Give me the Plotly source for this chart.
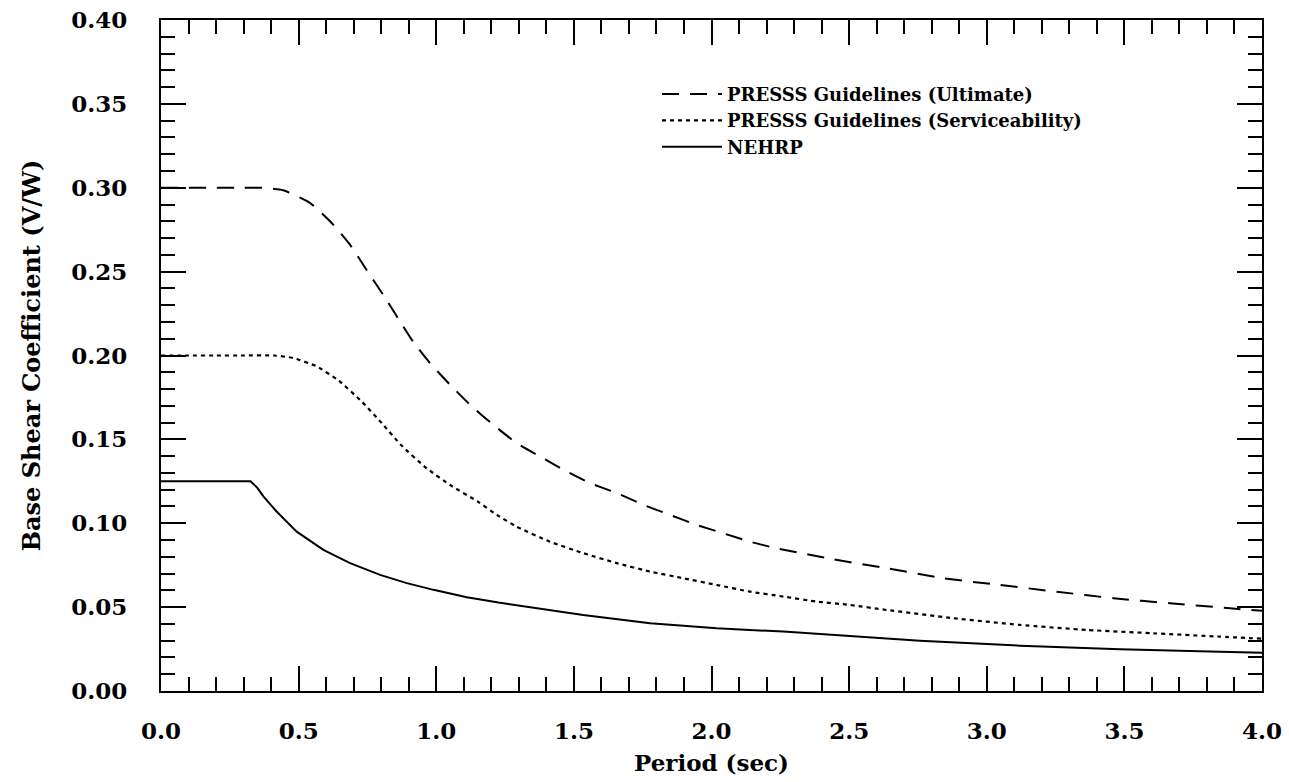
import plotly.graph_objects as go

# Period (sec) and base shear coefficient values
ult_T = [0.0, 0.10, 0.20, 0.30, 0.36, 0.444, 0.541, 0.62, 0.687, 0.747, 0.808, 0.862,
         0.917, 0.977, 1.05, 1.123, 1.207, 1.292, 1.377, 1.462, 1.559, 1.656, 1.752,
         1.849, 1.946, 2.043, 2.14, 2.237, 2.334, 2.443, 2.636, 2.842, 3.048, 3.254,
         3.46, 3.666, 3.884, 4.0]
ult_V = [0.300, 0.300, 0.300, 0.300, 0.300, 0.2985, 0.291, 0.279, 0.266, 0.251, 0.236, 0.222,
         0.208, 0.1955, 0.1826, 0.1706, 0.1587, 0.1478, 0.1398, 0.1319, 0.1239, 0.118, 0.111,
         0.105, 0.099, 0.094, 0.089, 0.085, 0.082, 0.0785, 0.0732, 0.0672, 0.0632, 0.0592,
         0.0553, 0.0523, 0.0493, 0.0478]

svc_T = [0.0, 0.10, 0.20, 0.30, 0.41, 0.48, 0.566, 0.645, 0.729, 0.802, 0.874, 0.965,
         1.056, 1.15, 1.22, 1.292, 1.413, 1.534, 1.656, 1.777, 1.898, 2.019, 2.14, 2.261,
         2.382, 2.503, 2.636, 2.879, 3.121, 3.363, 3.605, 3.847, 4.0]
svc_V = [0.200, 0.200, 0.200, 0.200, 0.200, 0.1985, 0.1935, 0.1851, 0.1726, 0.1597, 0.1463, 0.1328,
         0.1222, 0.113, 0.105, 0.098, 0.089, 0.0822, 0.0762, 0.0712, 0.0672, 0.0632, 0.0592, 0.0563,
         0.0533, 0.0513, 0.0483, 0.0434, 0.0394, 0.0364, 0.0344, 0.0324, 0.0312]

neh_T = [0.0, 0.10, 0.20, 0.30, 0.325, 0.348, 0.372, 0.42, 0.493, 0.59, 0.687, 0.796,
         0.893, 0.99, 1.111, 1.226, 1.292, 1.534, 1.777, 2.019, 2.261, 2.503, 2.757,
         3.121, 3.484, 3.847, 4.0]
neh_V = [0.125, 0.125, 0.125, 0.125, 0.125, 0.1215, 0.116, 0.107, 0.095, 0.0841, 0.0762, 0.0692,
         0.0643, 0.0603, 0.0559, 0.0527, 0.0511, 0.0453, 0.0404, 0.0374, 0.0354, 0.0326, 0.030,
         0.027, 0.0249, 0.0234, 0.0228]

x_ticks = [0.0, 0.5, 1.0, 1.5, 2.0, 2.5, 3.0, 3.5, 4.0]
x_labels = ["0.0", "0.5", "1.0", "1.5", "2.0", "2.5", "3.0", "3.5", "4.0"]
y_ticks = [0.0, 0.05, 0.10, 0.15, 0.20, 0.25, 0.30, 0.35, 0.40]
y_labels = ["0.00", "0.05", "0.10", "0.15", "0.20", "0.25", "0.30", "0.35", "0.40"]

FONT = "DejaVu Serif"

fig = go.Figure()
fig.add_trace(go.Scatter(x=ult_T, y=ult_V, mode="lines", name="PRESSS Guidelines (Ultimate)",
                         line=dict(color="black", width=2, dash="17px,11px", shape="spline", smoothing=0.5)))
fig.add_trace(go.Scatter(x=svc_T, y=svc_V, mode="lines", name="PRESSS Guidelines (Serviceability)",
                         line=dict(color="black", width=2.2, dash="4px,4px", shape="spline", smoothing=0.5)))
fig.add_trace(go.Scatter(x=neh_T, y=neh_V, mode="lines", name="NEHRP",
                         line=dict(color="black", width=2)))

axis_common = dict(
    showline=True, linecolor="black", linewidth=2, mirror="allticks",
    ticks="inside", tickcolor="black", tickwidth=2, ticklen=25,
    showgrid=False, zeroline=False,
    tickfont=dict(family=FONT, size=23, color="black", weight="bold"),
)

fig.update_xaxes(
    range=[0, 4], tickvals=x_ticks, ticktext=x_labels,
    minor=dict(dtick=0.1, ticks="inside", ticklen=14, tickwidth=2, tickcolor="black", showgrid=False),
    title=dict(text="Period (sec)", font=dict(family=FONT, size=23, color="black", weight="bold"), standoff=12),
    ticklabelstandoff=18,
    **axis_common,
)
fig.update_yaxes(
    range=[0, 0.40], tickvals=y_ticks, ticktext=y_labels,
    minor=dict(dtick=0.01, ticks="inside", ticklen=14, tickwidth=2, tickcolor="black", showgrid=False),
    title=dict(text="Base Shear Coefficient (V/W)", font=dict(family=FONT, size=24, color="black", weight="bold"), standoff=24),
    ticklabelstandoff=27,
    **axis_common,
)

fig.update_layout(
    width=1289, height=782,
    margin=dict(l=161, r=27, t=20, b=91, autoexpand=False),
    paper_bgcolor="white", plot_bgcolor="white",
    showlegend=True,
    legend=dict(x=0.4505, y=0.917, xanchor="left", yanchor="top", bgcolor="rgba(0,0,0,0)",
                font=dict(family=FONT, size=18, color="black", weight="bold"),
                itemwidth=60, tracegroupgap=0),
)

fig.write_html("out.html")
